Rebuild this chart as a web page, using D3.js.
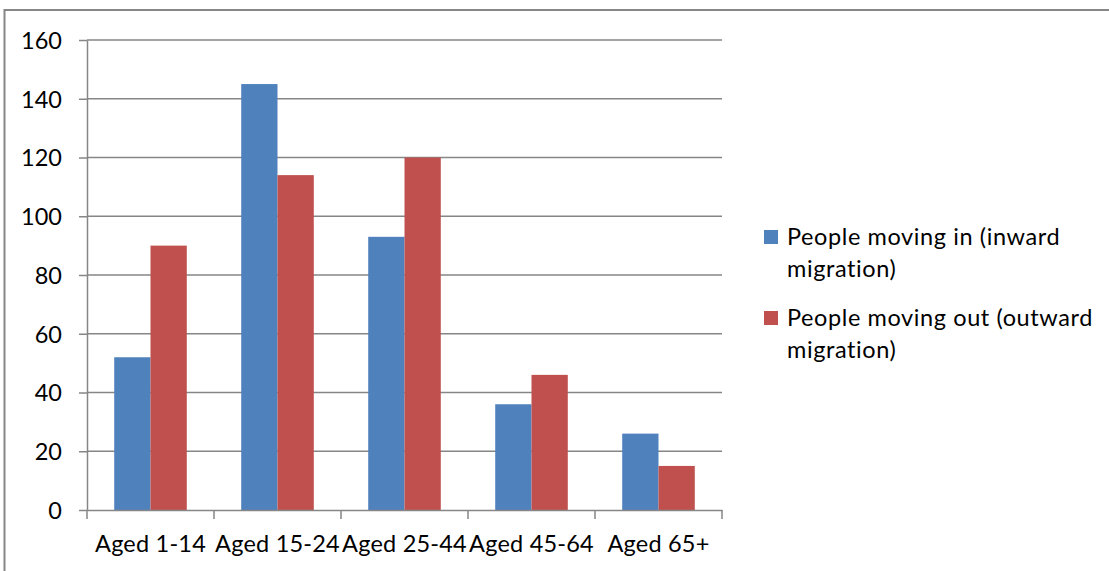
<!DOCTYPE html>
<html>
<head>
<meta charset="utf-8">
<script src="https://cdn.jsdelivr.net/npm/d3@7"></script>
<style>
  html, body { margin: 0; padding: 0; background: #fff; }
  svg { display: block; font-family: Lato, "Open Sans", sans-serif; }
  .num { font-variant-numeric: tabular-nums; }
</style>
</head>
<body>
<svg id="chart" width="1109" height="571"></svg>
<script>
// Migration by age group
const categories = ["Aged 1-14", "Aged 15-24", "Aged 25-44", "Aged 45-64", "Aged 65+"];
const inward = [52, 145, 93, 36, 26];
const outward = [90, 114, 120, 46, 15];
const seriesNames = ["People moving in (inward migration)", "People moving out (outward migration)"];
const legendLines = [["People moving in (inward", "migration)"], ["People moving out (outward", "migration)"]];
const seriesColors = ["#4F81BD", "#C0504D"];
const yTicks = [0, 20, 40, 60, 80, 100, 120, 140, 160];

const svg = d3.select("#chart");
const plot = { left: 87, right: 722, top: 40, bottom: 510 };
const axisColor = "#868686";
const fontSize = 23.5;

// Outer chart frame
svg.append("path")
  .attr("d", `M4.5,${571 + 5} V10 H${1109 + 5}`)
  .attr("fill", "none")
  .attr("stroke", axisColor)
  .attr("stroke-width", 2);

const x = d3.scaleBand().domain(categories).range([plot.left, plot.right]).padding(0);
const xSeries = d3.scaleBand().domain(seriesNames).range([0, x.bandwidth()])
  .paddingInner(0).paddingOuter(0.75);
const y = d3.scaleLinear().domain([0, 160]).range([plot.bottom, plot.top]);

// Horizontal gridlines
svg.append("g")
  .selectAll("line")
  .data(yTicks.filter(d => d !== 0))
  .join("line")
  .attr("x1", plot.left).attr("x2", plot.right)
  .attr("y1", d => y(d)).attr("y2", d => y(d))
  .attr("stroke", axisColor)
  .attr("stroke-width", 1.5);

// Bars
const rows = categories.map((c, i) => ({ cat: c, values: [inward[i], outward[i]] }));
svg.append("g")
  .selectAll("g")
  .data(rows)
  .join("g")
  .attr("transform", d => `translate(${x(d.cat)},0)`)
  .selectAll("rect")
  .data(d => d.values.map((v, j) => ({ name: seriesNames[j], value: v, color: seriesColors[j] })))
  .join("rect")
  .attr("x", d => xSeries(d.name))
  .attr("width", xSeries.bandwidth())
  .attr("y", d => y(d.value))
  .attr("height", d => y(0) - y(d.value))
  .attr("fill", d => d.color);

// Y axis
const yAxis = svg.append("g")
  .attr("transform", `translate(${plot.left},0)`)
  .call(d3.axisLeft(y).tickValues(yTicks).tickSize(8).tickPadding(17).tickSizeOuter(0));
yAxis.select(".domain").attr("stroke", axisColor).attr("stroke-width", 1.5);
yAxis.selectAll(".tick line").attr("stroke", axisColor).attr("stroke-width", 1.5);
yAxis.selectAll(".tick text")
  .attr("class", "num")
  .attr("font-size", fontSize).attr("font-family", "Lato, 'Open Sans', sans-serif")
  .attr("fill", "#000").attr("dy", "0.36em");

// X axis with ticks at category boundaries
const xAxis = svg.append("g")
  .attr("transform", `translate(0,${plot.bottom})`)
  .call(d3.axisBottom(x).tickSize(0).tickSizeOuter(0));
xAxis.select(".domain").attr("stroke", axisColor).attr("stroke-width", 1.5);
xAxis.selectAll(".tick text")
  .attr("class", "num")
  .attr("font-size", fontSize).attr("font-family", "Lato, 'Open Sans', sans-serif")
  .attr("letter-spacing", 0.2)
  .attr("fill", "#000").attr("y", 42).attr("dy", 0);
const bounds = categories.map(c => x(c)).concat([x(categories[categories.length - 1]) + x.bandwidth()]);
xAxis.append("g")
  .selectAll("line")
  .data(bounds)
  .join("line")
  .attr("x1", d => d).attr("x2", d => d)
  .attr("y1", 0).attr("y2", 9)
  .attr("stroke", axisColor)
  .attr("stroke-width", 1.5);

// Legend
const legend = svg.append("g").attr("transform", "translate(764,0)");
const entries = legend.selectAll("g")
  .data(seriesNames)
  .join("g")
  .attr("transform", (d, i) => `translate(0,${245 + i * 81})`);
entries.append("rect")
  .attr("x", 0).attr("y", -15)
  .attr("width", 14).attr("height", 14)
  .attr("fill", (d, i) => seriesColors[i]);
entries.append("text")
  .attr("font-size", fontSize)
  .attr("letter-spacing", 0.6)
  .attr("fill", "#000")
  .selectAll("tspan")
  .data((d, i) => legendLines[i])
  .join("tspan")
  .attr("x", 23)
  .attr("y", (d, k) => k * 32)
  .text(d => d);
</script>
</body>
</html>
